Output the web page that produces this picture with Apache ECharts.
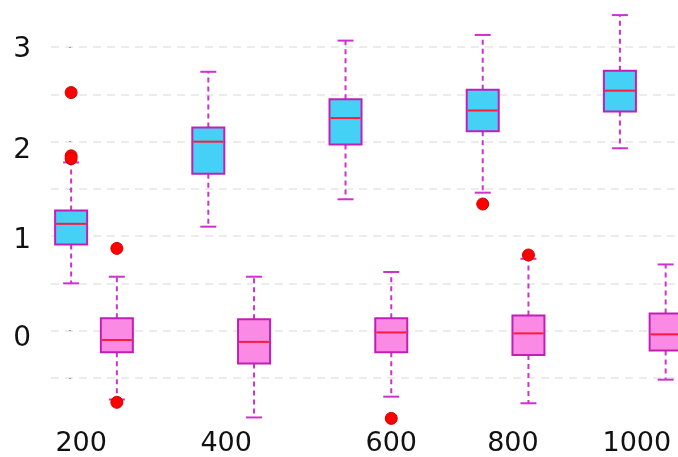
<!DOCTYPE html>
<html>
<head>
<meta charset="utf-8">
<script src="https://cdn.jsdelivr.net/npm/echarts@6/dist/echarts.min.js"></script>
<style>
  html, body { margin: 0; padding: 0; background: #fff; }
  #chart { width: 678px; height: 457px; }
</style>
</head>
<body>
<div id="chart"></div>
<script>
// x labels and where they sit (in box-slot units: blue = 3i, pink = 3i+1)
var categories = ['200', '400', '600', '800', '1000'];
var labelPos = [0.22, 3.39, 7.0, 9.66, 12.37];

// y ticks / grid lines, and the y labels (drawn a little below their line)
var yTicks = [-0.5, 0, 0.5, 1, 1.5, 2, 2.5, 3];
var yLabels = ['0', '1', '2', '3'];
var yLabelPos = [-0.085, 0.955, 1.905, 2.975];

// [min, Q1, median, Q3, max]
var blueBoxes = [
    [0.50, 0.91, 1.13, 1.27, 1.78],
    [1.10, 1.66, 2.00, 2.15, 2.74],
    [1.39, 1.97, 2.25, 2.45, 3.07],
    [1.46, 2.11, 2.33, 2.55, 3.13],
    [1.93, 2.32, 2.54, 2.75, 3.34]
];
var pinkBoxes = [
    [-0.73, -0.23, -0.10, 0.13, 0.57],
    [-0.92, -0.35, -0.12, 0.12, 0.57],
    [-0.70, -0.23, -0.02, 0.13, 0.62],
    [-0.77, -0.26, -0.03, 0.16, 0.76],
    [-0.52, -0.21, -0.04, 0.18, 0.70]
];
// [category index, value]
var blueOutliers = [[0, 2.52], [0, 1.85], [0, 1.82], [3, 1.34]];
var pinkOutliers = [[0, 0.87], [0, -0.76], [2, -0.93], [3, 0.80]];

function boxData(list, shift) {
    return list.map(function (b, i) {
        return [i * 3 + shift].concat(b);
    });
}
function outlierData(list, shift) {
    return list.map(function (o) {
        return [o[0] * 3 + shift, o[1]];
    });
}

function makeRender(fill) {
    return function (params, api) {
        var x = api.value(0);
        var lo = api.coord([x, api.value(1)]);
        var q1 = api.coord([x, api.value(2)]);
        var md = api.coord([x, api.value(3)]);
        var q3 = api.coord([x, api.value(4)]);
        var hi = api.coord([x, api.value(5)]);
        var w = api.size([0.7, 0])[0];
        var cx = lo[0];
        var edge = '#c21fb6';
        var dash = { stroke: '#cc33cc', lineWidth: 2, lineDash: [5, 4] };
        var solid = { stroke: '#cc33cc', lineWidth: 2 };
        return {
            type: 'group',
            children: [
                { type: 'line', shape: { x1: cx, y1: q3[1], x2: cx, y2: hi[1] }, style: dash },
                { type: 'line', shape: { x1: cx, y1: q1[1], x2: cx, y2: lo[1] }, style: dash },
                { type: 'line', shape: { x1: cx - w / 4, y1: hi[1], x2: cx + w / 4, y2: hi[1] }, style: solid },
                { type: 'line', shape: { x1: cx - w / 4, y1: lo[1], x2: cx + w / 4, y2: lo[1] }, style: solid },
                { type: 'rect', shape: { x: cx - w / 2, y: q3[1], width: w, height: q1[1] - q3[1] },
                  style: { fill: fill, stroke: edge, lineWidth: 2 } },
                { type: 'line', shape: { x1: cx - w / 2 + 1, y1: md[1], x2: cx + w / 2 - 1, y2: md[1] },
                  style: { stroke: '#ff1a3c', lineWidth: 2 } }
            ]
        };
    };
}

var chart = echarts.init(document.getElementById('chart'));
var option = {
    animation: false,
    grid: { left: 51, right: 0, top: -3, bottom: 31 },
    xAxis: {
        type: 'value',
        min: -0.44,
        max: 13.27,
        axisLine: { show: false },
        axisTick: { show: false },
        splitLine: { show: false },
        axisLabel: {
            customValues: labelPos,
            margin: 5,
            fontSize: 27,
            fontFamily: 'DejaVu Sans',
            color: '#111',
            formatter: function (v) {
                var i = labelPos.indexOf(v);
                return i >= 0 ? categories[i] : '';
            }
        }
    },
    yAxis: {
        type: 'value',
        min: -1,
        max: 3.5,
        axisLine: { show: false },
        axisTick: { show: true, customValues: yTicks, length: 2, lineStyle: { color: '#999' } },
        splitLine: { show: true, lineStyle: { color: '#e6e6e6', type: [8, 6], width: 1.5 } },
        axisLabel: {
            customValues: yLabelPos,
            margin: 20,
            fontSize: 28,
            fontFamily: 'DejaVu Sans',
            color: '#111',
            formatter: function (v) {
                var i = yLabelPos.indexOf(v);
                return i >= 0 ? yLabels[i] : '';
            }
        }
    },
    series: [
        {
            type: 'custom',
            renderItem: makeRender('#45d1f5'),
            encode: { x: 0, y: [1, 2, 3, 4, 5] },
            data: boxData(blueBoxes, 0)
        },
        {
            type: 'custom',
            renderItem: makeRender('#fa8ae4'),
            encode: { x: 0, y: [1, 2, 3, 4, 5] },
            data: boxData(pinkBoxes, 1)
        },
        {
            type: 'scatter',
            symbolSize: 12,
            itemStyle: { color: '#ff0000', borderColor: '#d00000', borderWidth: 1, opacity: 1 },
            data: outlierData(blueOutliers, 0)
        },
        {
            type: 'scatter',
            symbolSize: 12,
            itemStyle: { color: '#ff0000', borderColor: '#d00000', borderWidth: 1, opacity: 1 },
            data: outlierData(pinkOutliers, 1)
        }
    ]
};
chart.setOption(option);
</script>
</body>
</html>
